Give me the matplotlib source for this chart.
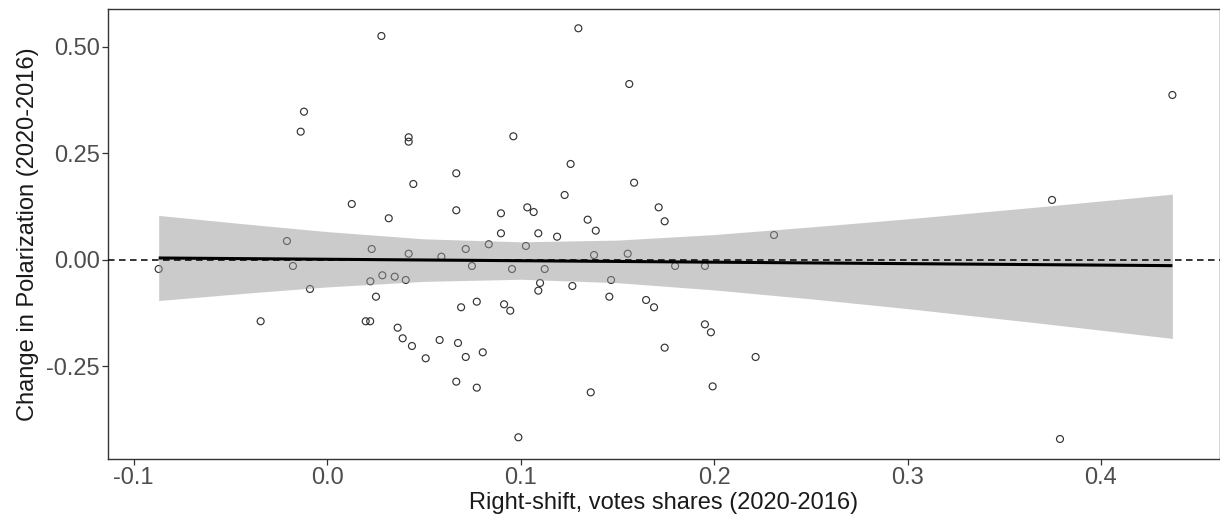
import matplotlib
matplotlib.use("Agg")
import matplotlib.pyplot as plt

plt.rcParams['font.family'] = ['Liberation Sans', 'DejaVu Sans']

# scatter points: right-shift in vote share vs change in polarization
shift = [0.0281, -0.0119, -0.0136, 0.0128, 0.0319, -0.0207, 0.0231, -0.0870, -0.0176, -0.0088,
         0.0286, 0.0350, 0.0224, 0.0253, -0.0343, 0.0200, 0.0223, 0.0365, 0.0422, 0.0422,
         0.0963, 0.0668, 0.0446, 0.0668, 0.0899, 0.1035, 0.1068, 0.0899, 0.1092, 0.0422,
         0.0591, 0.0717, 0.0836, 0.1028, 0.0749, 0.0956, 0.1125, 0.0407, 0.1101, 0.1092,
         0.0693, 0.0774, 0.0915, 0.0947, 0.0391, 0.0439, 0.0582, 0.0677, 0.0717, 0.0805,
         0.0510, 0.0668, 0.0774, 0.0989, 0.1299, 0.1562, 0.1259, 0.1587, 0.1228, 0.1714,
         0.1745, 0.1347, 0.1389, 0.1189, 0.2310, 0.1380, 0.1554, 0.1799, 0.1953, 0.1268,
         0.1468, 0.1459, 0.1649, 0.1690, 0.1953, 0.1984, 0.1745, 0.2215, 0.1363, 0.1993,
         0.4369, 0.3747, 0.3788]
polar = [0.5256, 0.3478, 0.3008, 0.1309, 0.0973, 0.0439, 0.0251, -0.0219, -0.0148, -0.0688,
         -0.0367, -0.0399, -0.0508, -0.0869, -0.1447, -0.1447, -0.1447, -0.1598, 0.2876, 0.2773,
         0.2899, 0.2030, 0.1779, 0.1161, 0.1090, 0.1230, 0.1120, 0.0620, 0.0620, 0.0141,
         0.0071, 0.0251, 0.0362, 0.0322, -0.0148, -0.0219, -0.0219, -0.0477, -0.0547, -0.0728,
         -0.1118, -0.0987, -0.1048, -0.1198, -0.1847, -0.2028, -0.1887, -0.1957, -0.2286, -0.2176,
         -0.2317, -0.2866, -0.3007, -0.4173, 0.5437, 0.4128, 0.2249, 0.1809, 0.1520, 0.1230,
         0.0902, 0.0940, 0.0682, 0.0540, 0.0580, 0.0110, 0.0141, -0.0148, -0.0148, -0.0618,
         -0.0477, -0.0869, -0.0947, -0.1118, -0.1519, -0.1706, -0.2067, -0.2286, -0.3117, -0.2977,
         0.3870, 0.1403, -0.4213]

# linear fit and its confidence band
fit_x = [-0.087, 0.4369]
fit_y = [0.004, -0.014]
band_x = [-0.087, -0.04, 0.0, 0.05, 0.1, 0.15, 0.2, 0.25, 0.3, 0.37, 0.4369]
band_lo = [-0.096, -0.078, -0.064, -0.051, -0.046, -0.054, -0.071, -0.092, -0.115, -0.150, -0.185]
band_hi = [0.104, 0.083, 0.066, 0.049, 0.042, 0.046, 0.059, 0.077, 0.096, 0.125, 0.154]

xticks = [-0.1, 0.0, 0.1, 0.2, 0.3, 0.4]
yticks = [-0.25, 0.0, 0.25, 0.50]

fig = plt.figure(figsize=(12.2, 5.31), dpi=100)
ax = fig.add_axes([0.0885, 0.1356, 0.9115, 0.848])

ax.scatter(shift, polar, s=25, facecolors='none', edgecolors='#333333', linewidths=0.85, zorder=2)
ax.fill_between(band_x, band_lo, band_hi, color='#999999', alpha=0.5, linewidth=0, zorder=3)
ax.plot(fit_x, fit_y, color='black', linewidth=2.2, solid_capstyle='butt', zorder=4)
ax.axhline(0, color='black', linewidth=1.1, dashes=(4.3, 2.9), zorder=5)

ax.set_xlim(-0.1132, 0.4615)
ax.set_ylim(-0.4683, 0.5897)
ax.set_xticks(xticks)
ax.set_xticklabels(['-0.1', '0.0', '0.1', '0.2', '0.3', '0.4'])
ax.set_yticks(yticks)
ax.set_yticklabels(['-0.25', '0.00', '0.25', '0.50'])

for sp in ax.spines.values():
    sp.set_color('#333333')
    sp.set_linewidth(1.0)
ax.tick_params(direction='out', length=4, width=0.9, color='#333333',
               labelsize=17, labelcolor='#4d4d4d', pad=2)

ax.set_xlabel('Right-shift, votes shares (2020-2016)', fontsize=17, color='#1a1a1a', labelpad=2)
ax.set_ylabel('Change in Polarization (2020-2016)', fontsize=17, color='#1a1a1a', labelpad=5)

fig.savefig('out.png', dpi=100)
